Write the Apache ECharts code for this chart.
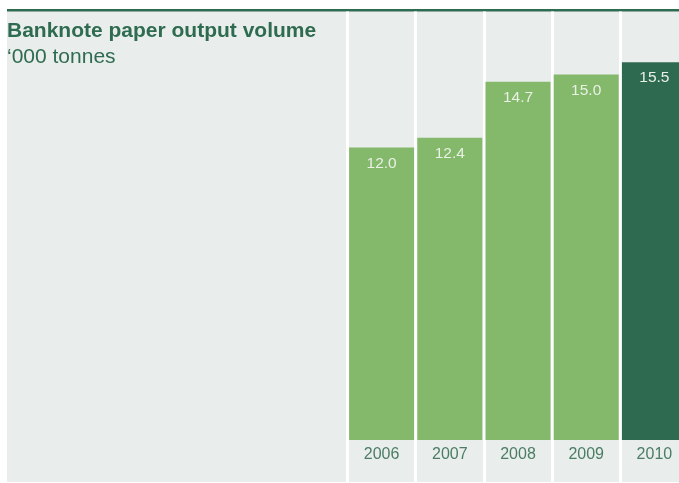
<!DOCTYPE html>
<html>
<head>
<meta charset="utf-8">
<script src="https://cdn.jsdelivr.net/npm/echarts@6/dist/echarts.min.js"></script>
<style>
html,body{margin:0;padding:0;background:#fff;}
#chart{width:679px;height:483px;}
</style>
</head>
<body>
<div id="chart"></div>
<script>
var years = ['2006', '2007', '2008', '2009', '2010'];
var volumes = [12.0, 12.4, 14.7, 15.0, 15.5];
var titleText = 'Banknote paper output volume';
var unitText = '\u2018000 tonnes';

var chart = echarts.init(document.getElementById('chart'), null, {renderer: 'canvas'});
var font = '"Liberation Sans", Arial, Helvetica, sans-serif';
var lightGreen = '#84b86b';
var darkGreen = '#2e6a50';

var option = {
  backgroundColor: '#ffffff',
  animation: false,
  title: {
    left: 7,
    top: 21,
    text: titleText,
    subtext: unitText,
    itemGap: 5,
    padding: 0,
    textStyle: {fontFamily: font, fontSize: 21, fontWeight: 'bold', color: '#2e6b50'},
    subtextStyle: {fontFamily: font, fontSize: 21, color: '#2e6b50'}
  },
  graphic: [
    {type: 'rect', z: -10, silent: true, shape: {x: 7, y: 11, width: 672, height: 471}, style: {fill: '#e9eeec'}},
    {type: 'rect', z: -9, silent: true, shape: {x: 7, y: 9, width: 672, height: 2.5}, style: {fill: '#2e6b50'}}
  ],
  grid: {left: 347.5, top: 11.5, width: 341, bottom: 1, containLabel: false, outerBoundsMode: 'none'},
  xAxis: {
    type: 'category',
    data: years,
    position: 'bottom',
    axisLine: {show: false, onZero: false},
    axisTick: {show: false},
    axisLabel: {margin: -35, color: '#4b7d64', fontSize: 16, fontFamily: font},
    splitLine: {show: true, lineStyle: {color: '#ffffff', width: 3}}
  },
  yAxis: {
    type: 'value',
    min: -1.723,
    max: 17.58,
    show: false,
    splitLine: {show: false}
  },
  series: [{
    type: 'bar',
    barWidth: 65,
    data: volumes.map(function (v, i) {
      return {value: v, itemStyle: {color: i === volumes.length - 1 ? darkGreen : lightGreen}};
    }),
    label: {
      show: true,
      position: 'insideTop',
      distance: 8,
      color: '#e9f1e4',
      fontSize: 15.5,
      fontFamily: font,
      formatter: function (p) { return p.value.toFixed(1); }
    }
  }]
};
chart.setOption(option);
</script>
</body>
</html>
